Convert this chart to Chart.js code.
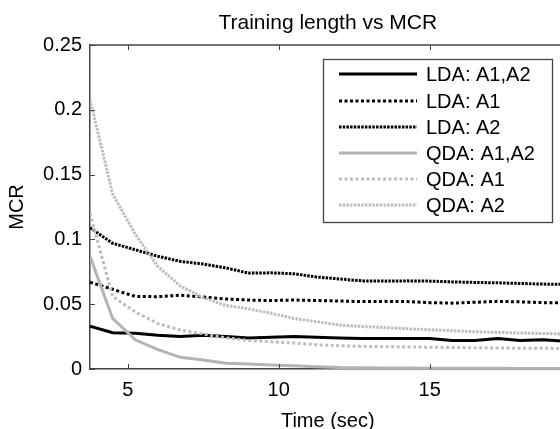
<!DOCTYPE html>
<html><head><meta charset="utf-8">
<script src="https://cdn.jsdelivr.net/npm/chart.js@4"></script>
<style>
html,body{margin:0;padding:0;background:#fff;overflow:hidden;width:560px;height:429px}
#wrap{position:absolute;left:0;top:0;width:580px;height:429px}
</style>
</head><body><div id="wrap"><canvas id="c" width="580" height="429"></canvas></div>
<script>
const chartTitle = "Training length vs MCR";
const xTitle = "Time (sec)";
const yTitle = "MCR";
const times = [3.75,4.5,5.25,6,6.75,7.5,8.25,9,9.75,10.5,11.25,12,12.75,13.5,14.25,15,15.75,16.5,17.25,18,18.75,19.5];
const xTickValues = [5,10,15];
const yTickValues = [0,0.05,0.1,0.15,0.2,0.25];
const yTickLabels = ["0","0.05","0.1","0.15","0.2","0.25"];
const seriesNames = ["LDA: A1,A2","LDA: A1","LDA: A2","QDA: A1,A2","QDA: A1","QDA: A2"];
const ldaA1A2 = [0.033,0.028,0.0275,0.026,0.025,0.026,0.025,0.024,0.0245,0.025,0.0245,0.024,0.0235,0.0235,0.0235,0.0235,0.022,0.022,0.0235,0.022,0.0225,0.0215];
const ldaA1   = [0.067,0.0615,0.056,0.0558,0.057,0.0555,0.054,0.0532,0.0528,0.0532,0.0528,0.0525,0.052,0.0522,0.052,0.0512,0.0508,0.0515,0.0522,0.0518,0.0512,0.0512];
const ldaA2   = [0.109,0.097,0.092,0.087,0.083,0.081,0.078,0.074,0.0742,0.0735,0.071,0.0695,0.068,0.0678,0.068,0.0678,0.0672,0.0668,0.0665,0.066,0.0655,0.0653];
const qdaA1A2 = [0.087,0.039,0.0225,0.015,0.009,0.007,0.0045,0.0038,0.003,0.0025,0.0018,0.0012,0.001,0.0008,0.0007,0.0006,0.0005,0.0005,0.0005,0.0004,0.0004,0.0004];
const qdaA1   = [0.12,0.056,0.044,0.035,0.030,0.027,0.024,0.022,0.021,0.020,0.0188,0.018,0.0175,0.0172,0.017,0.0168,0.0166,0.0164,0.0162,0.016,0.016,0.0158];
const qdaA2   = [0.208,0.135,0.104,0.079,0.064,0.055,0.049,0.0465,0.043,0.039,0.0365,0.034,0.0328,0.032,0.031,0.0303,0.0295,0.0288,0.0282,0.0278,0.0274,0.027];

const FONT = '"Liberation Sans", Arial, sans-serif';
const AX = '#444';
const pts = arr => arr.map((v,i)=>({x:times[i], y:v}));

const styles = [
  {c:'#000000', d:[]},
  {c:'#000000', d:[3,2.5]},
  {c:'#000000', d:[2.5,1.2]},
  {c:'#b4b4b4', d:[]},
  {c:'#bdbdbd', d:[3,2.5]},
  {c:'#bdbdbd', d:[2.5,1.2]}
];
const allSeries = [ldaA1A2, ldaA1, ldaA2, qdaA1A2, qdaA1, qdaA2];
const datasets = allSeries.map((s,i)=>({
  label: seriesNames[i], data: pts(s), borderColor: styles[i].c, borderDash: styles[i].d,
  borderWidth: 3, pointRadius: 0, tension: 0, fill: false, order: 6 - i
}));

const boxPlugin = {
  id: 'boxTicks',
  afterDatasetsDraw(chart) {
    const {ctx, chartArea: a, scales: {x, y}} = chart;
    ctx.save();
    ctx.strokeStyle = AX; ctx.lineWidth = 1.5;
    ctx.beginPath(); ctx.moveTo(a.left, a.top); ctx.lineTo(a.right, a.top); ctx.stroke();
    ctx.lineWidth = 1;
    xTickValues.forEach(v => {
      const px = Math.round(x.getPixelForValue(v)) + 0.5;
      ctx.beginPath(); ctx.moveTo(px, a.bottom); ctx.lineTo(px, a.bottom - 5);
      ctx.moveTo(px, a.top); ctx.lineTo(px, a.top + 5); ctx.stroke();
    });
    yTickValues.forEach(v => {
      const py = Math.round(y.getPixelForValue(v)) + 0.5;
      ctx.beginPath(); ctx.moveTo(a.left, py); ctx.lineTo(a.left + 5, py); ctx.stroke();
    });
    // legend box
    const L = 323, T = 59, R = 552, B = 222;
    ctx.fillStyle = '#fff'; ctx.fillRect(L, T, R - L, B - T);
    ctx.strokeStyle = AX; ctx.lineWidth = 1.3;
    ctx.strokeRect(L + 0.5, T + 0.5, R - L, B - T);
    const rows = [74, 101, 127, 153, 179, 205];
    ctx.font = '20px ' + FONT; ctx.textBaseline = 'middle'; ctx.textAlign = 'left';
    chart.data.datasets.forEach((ds, i) => {
      ctx.strokeStyle = ds.borderColor; ctx.lineWidth = ds.borderWidth;
      ctx.setLineDash(ds.borderDash);
      ctx.beginPath(); ctx.moveTo(339, rows[i]); ctx.lineTo(417, rows[i]); ctx.stroke();
      ctx.setLineDash([]);
      ctx.fillStyle = '#000'; ctx.fillText(ds.label, 426, rows[i] + 1);
    });
    ctx.restore();
  }
};

Chart.defaults.color = '#000';
Chart.defaults.font.family = FONT;
new Chart(document.getElementById('c'), {
  type: 'line',
  data: { datasets },
  plugins: [boxPlugin],
  options: {
    responsive: false, animation: false,
    layout: { padding: { left: 0, right: 14.4, top: 0, bottom: 0 } },
    plugins: {
      legend: { display: false }, tooltip: { enabled: false },
      title: { display: true, text: chartTitle, fullSize: false, font: { size: 21, weight: 'normal', family: FONT },
               color: '#000', padding: { top: 11, bottom: 8.8 } }
    },
    scales: {
      x: {
        type: 'linear', min: 3.75, max: 19.5,
        afterBuildTicks: s => { s.ticks = xTickValues.map(v => ({value: v})); },
        afterFit: s => { s.height = 60; },
        ticks: { font: { size: 20 }, padding: 9, maxRotation: 0, callback: v => String(v) },
        grid: { display: false, drawTicks: false },
        border: { display: true, color: AX, width: 1.5 },
        title: { display: true, text: xTitle, font: { size: 20 }, padding: { top: 0, bottom: -4 } }
      },
      y: {
        type: 'linear', min: 0, max: 0.25,
        afterBuildTicks: s => { s.ticks = yTickValues.map(v => ({value: v})); },
        afterFit: s => { s.width = 90; },
        ticks: { font: { size: 20 }, padding: 8, callback: (v) => yTickLabels[yTickValues.indexOf(v)] ?? '' },
        grid: { display: false, drawTicks: false },
        border: { display: true, color: AX, width: 1.5 },
        title: { display: true, text: yTitle, font: { size: 20 }, padding: { top: 5, bottom: 0 } }
      }
    }
  }
});
</script>
</body></html>
